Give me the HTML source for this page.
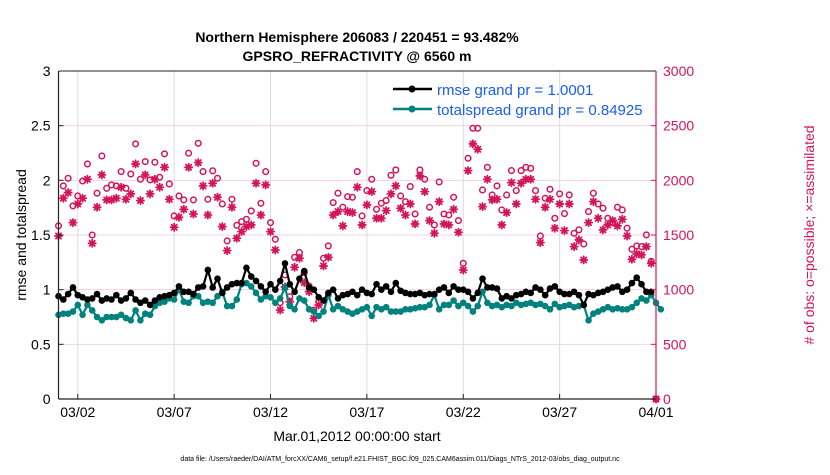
<!DOCTYPE html>
<html><head><meta charset="utf-8"><style>
body{margin:0;background:#fff;}
svg{font-family:"Liberation Sans",Arial,sans-serif;}
</style></head><body>
<svg id="c" width="830" height="470" viewBox="0 0 830 470">
<text x="357" y="42" text-anchor="middle" font-size="14" font-weight="bold">Northern Hemisphere 206083 / 220451 = 93.482%</text>
<text x="357" y="61" text-anchor="middle" font-size="14" font-weight="bold">GPSRO_REFRACTIVITY @ 6560 m</text>
<g id="grid"></g>
<g id="marks"></g>
<g id="axes"></g>
<text transform="translate(26,235) rotate(-90)" text-anchor="middle" font-size="14">rmse and totalspread</text>
<text transform="translate(814,235) rotate(-90)" text-anchor="middle" font-size="14" fill="#d4145a"># of obs: o=possible; ×=assimilated</text>
<text x="357" y="441" text-anchor="middle" font-size="14">Mar.01,2012 00:00:00 start</text>
<text x="400" y="461" text-anchor="middle" font-size="7">data file: /Users/raeder/DAI/ATM_forcXX/CAM6_setup/f.e21.FHIST_BGC.f09_025.CAM6assim.011/Diags_NTrS_2012-03/obs_diag_output.nc</text>
<g>
<line x1="393" y1="89" x2="432" y2="89" stroke="#000" stroke-width="2.5"/>
<circle cx="412" cy="89" r="3.5" fill="#000"/>
<text x="437" y="95" font-size="15" fill="#1a5cf0">rmse grand pr = 1.0001</text>
<line x1="393" y1="109" x2="432" y2="109" stroke="#00827f" stroke-width="2.5"/>
<circle cx="412" cy="109" r="3.5" fill="#00827f"/>
<text x="437" y="115" font-size="15" fill="#1a5cf0">totalspread grand pr = 0.84925</text>
</g>
</svg>
<script>
const dateTicks=[1,6,11,16,21,26,31];
const dateLabels=["03/02","03/07","03/12","03/17","03/22","03/27","04/01"];
const leftTicks=[0,0.5,1,1.5,2,2.5,3];
const rightTicks=[0,500,1000,1500,2000,2500,3000];
const rmse=[0.94,0.91,0.96,1.02,0.95,0.93,0.91,0.92,0.96,0.90,0.92,0.91,0.95,0.90,0.92,0.97,0.91,0.88,0.90,0.86,0.90,0.93,0.94,0.95,0.97,1.03,0.98,0.98,0.96,1.02,1.03,1.18,1.02,1.10,0.97,1.02,1.05,1.06,1.06,1.20,1.12,1.08,1.03,0.98,
1.05,1.00,1.08,1.24,1.05,0.98,1.10,1.17,1.02,1.00,0.93,0.90,0.97,1.00,0.92,0.95,0.96,0.98,0.95,1.00,0.97,0.96,1.05,1.00,1.03,0.98,1.06,0.99,0.97,0.96,0.96,0.97,0.95,0.96,0.96,1.00,1.02,0.97,1.03,1.00,
1.00,0.98,0.92,0.97,1.10,1.02,1.02,1.01,0.92,0.94,0.92,0.95,0.96,0.98,0.97,1.02,1.00,0.95,1.01,1.03,0.98,0.96,0.96,0.98,0.95,0.86,0.96,0.95,0.97,0.98,1.00,1.02,1.03,0.98,1.00,1.06,1.11,1.05,0.98,0.98];
const spread=[0.77,0.78,0.78,0.80,0.86,0.77,0.86,0.81,0.75,0.72,0.75,0.75,0.75,0.77,0.74,0.72,0.81,0.72,0.78,0.77,0.85,0.88,0.89,0.92,0.91,1.00,0.89,0.88,0.94,0.94,0.88,0.89,0.88,0.94,0.98,0.85,0.85,0.91,1.05,1.06,1.03,0.97,0.91,0.94,
0.93,0.88,0.92,1.02,0.85,0.82,0.92,0.90,0.82,0.80,0.76,0.80,0.95,0.82,0.85,0.82,0.80,0.78,0.80,0.82,0.84,0.76,0.84,0.82,0.84,0.80,0.80,0.80,0.82,0.82,0.83,0.84,0.84,0.86,0.95,0.82,0.86,0.86,0.90,0.85,
0.88,0.85,0.80,0.85,0.98,0.88,0.85,0.86,0.84,0.86,0.85,0.88,0.86,0.87,0.88,0.86,0.87,0.85,0.82,0.87,0.84,0.85,0.86,0.84,0.85,0.86,0.72,0.78,0.80,0.82,0.84,0.82,0.83,0.82,0.82,0.84,0.88,0.92,0.90,0.95,0.88,0.82];
const possible=[1583,1949,2019,1766,1857,1994,2150,1500,1882,2223,1927,1958,1949,2080,1927,2058,2333,2010,2171,2004,2165,2028,2242,1967,1674,1857,1821,2248,1821,2339,2080,1827,2087,2019,1784,1446,1827,1589,1622,1644,1720,2156,1790,
2080,1613,1461,881,1135,936,1296,1339,1156,1034,814,890,1287,1400,1796,1882,1754,1851,1845,2080,1674,1906,2010,1735,1790,1815,2046,2095,1857,1805,1943,1692,2095,2010,1754,1592,1985,1692,1683,1845,
1632,1241,2202,2476,2476,1912,2119,1866,1949,1729,1866,2089,1906,2089,2119,2110,1906,1491,1836,1918,1653,1876,1696,1866,1516,1547,1418,1714,1882,1784,1745,1653,1613,1754,1729,1562,1370,1400,1394,1501,1260,0];
const assimilated=[1491,1836,1888,1613,1784,1836,2010,1424,1754,2050,1821,1821,1836,1937,1827,1876,2150,1815,2050,1876,2010,1937,2119,1827,1571,1662,1735,2119,1692,2162,1949,1683,1973,1845,1577,1357,1754,1470,1531,1577,1592,1973,1683,
1958,1531,1363,814,1025,890,1205,1287,1064,982,738,860,1217,1296,1683,1714,1583,1714,1705,1937,1592,1775,1897,1653,1653,1723,1876,1949,1745,1683,1784,1601,2040,1897,1632,1516,1805,1601,1592,1735,
1525,1180,2089,2333,2284,1760,2010,1821,1827,1592,1705,1979,1784,1973,2010,2010,1827,1430,1754,1827,1562,1784,1540,1784,1394,1455,1272,1613,1805,1653,1547,1592,1632,1583,1644,1491,1278,1327,1318,1394,1241,0];

const X0=58.5,X1=656,Y0=399,Y1=71,D=31;
const xs=d=>X0+(X1-X0)*d/D;
const yl=v=>Y0-(Y0-Y1)*v/3;
const yr=v=>Y0-(Y0-Y1)*v/3000;
const NS="http://www.w3.org/2000/svg";
function mk(tag,attrs,parent){const e=document.createElementNS(NS,tag);for(const k in attrs)e.setAttribute(k,attrs[k]);parent.appendChild(e);return e;}
const grid=document.getElementById('grid'),marks=document.getElementById('marks'),axes=document.getElementById('axes');
const magenta="#d4145a";
rightTicks.forEach(t=>{if(t===0||t===3000)return;const l=mk('line',{x1:X0,x2:X1,y1:yr(t),y2:yr(t),stroke:"#f5d3e0","stroke-width":1},grid);

});
dateTicks.forEach((d,i)=>{if(d<D){const l=mk('line',{x1:xs(d),x2:xs(d),y1:Y1,y2:Y0,stroke:"#dcdcdc","stroke-width":1},grid);

}
mk('line',{x1:xs(d),x2:xs(d),y1:Y0,y2:Y0-5,stroke:"#222"},axes);
const t=mk('text',{x:xs(d),y:417,"text-anchor":"middle","font-size":14},axes);t.textContent=dateLabels[i];

});
leftTicks.forEach(v=>{mk('line',{x1:X0,x2:X0+5,y1:yl(v),y2:yl(v),stroke:"#222"},axes);
const t=mk('text',{x:X0-8,y:yl(v)+5,"text-anchor":"end","font-size":14},axes);t.textContent=String(v);

});
rightTicks.forEach(v=>{mk('line',{x1:X1,x2:X1-5,y1:yr(v),y2:yr(v),stroke:magenta},axes);
const t=mk('text',{x:X1+7,y:yr(v)+5,"text-anchor":"start","font-size":14,fill:magenta},axes);t.textContent=String(v);

});
// axis lines
let a=mk('line',{x1:X0,x2:X0,y1:Y1,y2:Y0,stroke:"#222","stroke-width":1.2},axes);


a=mk('line',{x1:X0,x2:X1,y1:Y0,y2:Y0,stroke:"#222","stroke-width":1.2},axes);


a=mk('line',{x1:X0,x2:X1,y1:Y1,y2:Y1,stroke:"#222","stroke-width":1},axes);


a=mk('line',{x1:X1,x2:X1,y1:Y1,y2:Y0,stroke:magenta,"stroke-width":1.2},axes);


// obs markers
function star(cx,cy){const g=mk('g',{stroke:magenta,"stroke-width":1.8,"stroke-linecap":"round"},marks);const r=3.6;
mk('line',{x1:cx-r,x2:cx+r,y1:cy,y2:cy},g);mk('line',{x1:cx,x2:cx,y1:cy-r,y2:cy+r},g);
mk('line',{x1:cx-r*0.72,x2:cx+r*0.72,y1:cy-r*0.72,y2:cy+r*0.72},g);mk('line',{x1:cx-r*0.72,x2:cx+r*0.72,y1:cy+r*0.72,y2:cy-r*0.72},g);return g;}
const dx=i=>i<possible.length-1?i*0.25:D;
assimilated.forEach((v,i)=>{const d=i<assimilated.length-1?i*0.25:D;const g=star(xs(d),yr(v));

});
possible.forEach((v,i)=>{const c=mk('circle',{cx:xs(dx(i)),cy:yr(v),r:2.8,fill:"none",stroke:magenta,"stroke-width":1.5},marks);

});
function series(arr,color,name){const pts=arr.map((v,i)=>xs(i*0.25).toFixed(1)+","+yl(v).toFixed(1)).join(" ");
const p=mk('polyline',{points:pts,fill:"none",stroke:color,"stroke-width":2.2,"stroke-linejoin":"round"},marks);


arr.forEach((v,i)=>{const c=mk('circle',{cx:xs(i*0.25),cy:yl(v),r:3.3,fill:color},marks);

});}
series(spread,"#00827f","totalspread");
series(rmse,"#000","rmse");
</script>
</body></html>
